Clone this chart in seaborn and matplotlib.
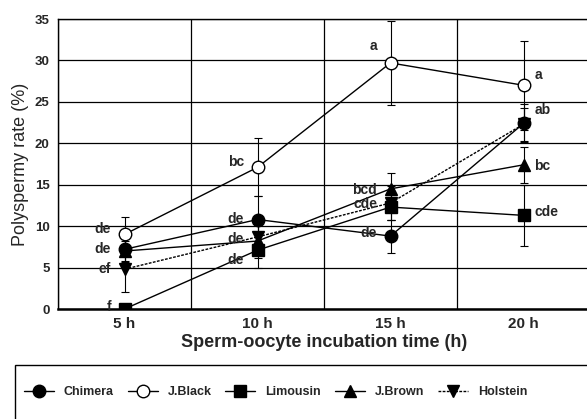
import matplotlib
matplotlib.use("Agg")
import matplotlib.pyplot as plt
import seaborn as sns
import pandas as pd
import numpy as np
from matplotlib.patches import Rectangle
from matplotlib.ticker import MultipleLocator

categories = ["5 h", "10 h", "15 h", "20 h"]
series_names = ["Chimera", "J.Black", "Limousin", "J.Brown", "Holstein"]
chimera = [7.2, 10.8, 8.8, 22.4]
chimera_err = [1.5, 2.8, 2.0, 2.3]
jblack = [9.0, 17.1, 29.7, 27.0]
jblack_err = [2.1, 3.5, 5.1, 5.4]
limousin = [0.0, 7.1, 12.3, 11.3]
limousin_err = [0.0, 2.1, 1.6, 3.7]
jbrown = [7.0, 8.2, 14.5, 17.4]
jbrown_err = [1.2, 2.0, 1.9, 2.2]
holstein = [4.8, 8.7, 12.8, 22.3]
holstein_err = [2.7, 1.8, 2.0, 2.0]

# significance letters: (category index, value, text, side)
letters = [
    (0, 9.6, "de", "l"), (0, 7.3, "de", "l"), (0, 4.8, "ef", "l"), (0, 0.3, "f", "l"),
    (1, 17.8, "bc", "l"), (1, 10.9, "de", "l"), (1, 8.4, "de", "l"), (1, 5.9, "de", "l"),
    (2, 31.8, "a", "l"), (2, 14.4, "bcd", "l"), (2, 12.7, "cde", "l"), (2, 9.2, "de", "l"),
    (3, 28.3, "a", "r"), (3, 24.0, "ab", "r"), (3, 17.2, "bc", "r"), (3, 11.7, "cde", "r"),
]

values = [chimera, jblack, limousin, jbrown, holstein]
errors = [chimera_err, jblack_err, limousin_err, jbrown_err, holstein_err]
styles = [
    dict(marker="o", mfc="black", ms=9, ls="-"),
    dict(marker="o", mfc="white", ms=9, ls="-"),
    dict(marker="s", mfc="black", ms=8, ls="-"),
    dict(marker="^", mfc="black", ms=9, ls="-"),
    dict(marker="v", mfc="black", ms=9, ls=(0, (2, 1))),
]

sns.set_theme(style="white")
plt.rcParams["font.family"] = ["Liberation Sans", "DejaVu Sans"]

fig = plt.figure(figsize=(5.87, 4.19), dpi=100)
ax = fig.add_axes([58 / 587, 110 / 419, 532 / 587, 290 / 419])

x = np.arange(len(categories))
for name, vals, errs, st in zip(series_names, values, errors, styles):
    df = pd.DataFrame({"x": x, "y": vals})
    ax.errorbar(x, vals, yerr=errs, fmt="none", ecolor="black", elinewidth=0.8,
                capsize=3, capthick=0.8, zorder=2)
    sns.lineplot(data=df, x="x", y="y", ax=ax, color="black", linewidth=1.0,
                 linestyle=st["ls"], marker=st["marker"], markersize=st["ms"],
                 markerfacecolor=st["mfc"], markeredgecolor="black",
                 markeredgewidth=1.0, label=name, legend=False, zorder=3)

for ci, v, t, side in letters:
    if side == "l":
        ax.text(ci - 0.1, v, t, ha="right", va="center", fontsize=10,
                fontweight="bold", zorder=4)
    else:
        ax.text(ci + 0.08, v, t, ha="left", va="center", fontsize=10,
                fontweight="bold", zorder=4)

ax.set_xlim(-0.5, 3.5)
ax.set_ylim(0, 35)
ax.set_xticks(x)
ax.set_xticklabels(categories, fontsize=11, fontweight="bold")
ax.set_xticks(np.arange(-0.5, 3.6, 1.0), minor=True)
ax.yaxis.set_major_locator(MultipleLocator(5))
ax.yaxis.set_minor_locator(MultipleLocator(1))
for lbl in ax.get_yticklabels():
    lbl.set_fontweight("bold")
    lbl.set_fontsize(9.5)
ax.tick_params(axis="x", which="major", length=0, pad=6)
ax.tick_params(axis="x", which="minor", length=4, width=0.8, direction="out", color="black")
ax.tick_params(axis="y", which="major", length=4, width=0.8, direction="out", color="black", pad=2)
ax.tick_params(axis="y", which="minor", length=2, width=0.6, direction="out", color="black")
ax.grid(True, which="major", axis="y", color="black", linewidth=0.9)
ax.grid(True, which="minor", axis="x", color="black", linewidth=0.9)
for s in ax.spines.values():
    s.set_color("black")
    s.set_linewidth(1.0)
ax.spines["bottom"].set_linewidth(1.8)

ax.set_xlabel("Sperm-oocyte incubation time (h)", fontsize=13, fontweight="bold", labelpad=2)
ax.set_ylabel("Polyspermy rate (%)", fontsize=13, labelpad=4)

# legend box
fig.patches.append(Rectangle((15 / 587, -0.05), 0.99, (419 - 365) / 419 + 0.05,
                             transform=fig.transFigure, fill=False,
                             edgecolor="black", linewidth=1.0))
handles, labels = ax.get_legend_handles_labels()
leg = fig.legend(handles, labels, loc="center left", bbox_to_anchor=(0.032, 27 / 419),
                 ncol=5, frameon=False, fontsize=9, handlelength=2.4,
                 handletextpad=0.8, columnspacing=1.1, borderaxespad=0)
for t in leg.get_texts():
    t.set_fontweight("bold")

fig.savefig("out.png", dpi=100)
